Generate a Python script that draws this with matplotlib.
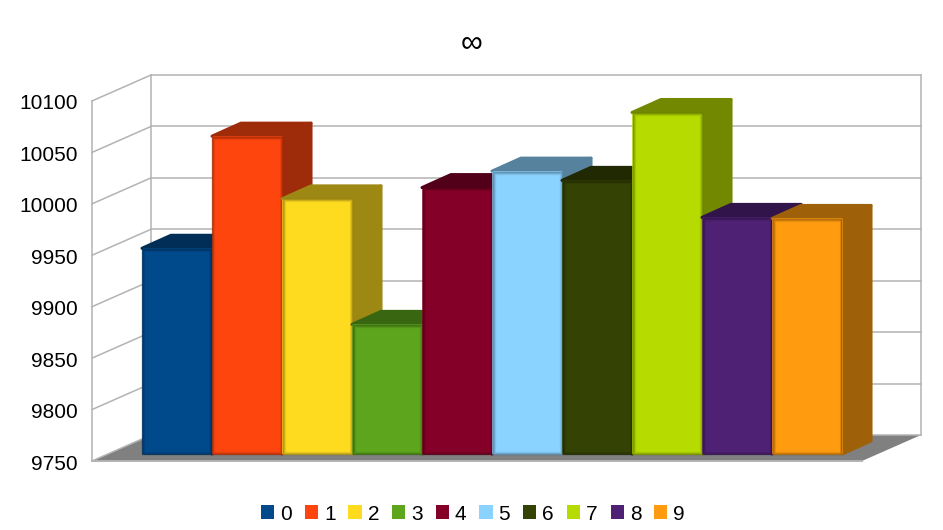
"""Pseudo-3D bar chart with ten categories, drawn with plain matplotlib polygons."""
import matplotlib
matplotlib.use('Agg')
import matplotlib.pyplot as plt
from matplotlib.colors import to_rgb
from matplotlib.patches import Patch, Polygon

# ======================== Data ========================
title = '\u221e'
categories = ['0', '1', '2', '3', '4', '5', '6', '7', '8', '9']
values = [9950, 10059, 9998, 9876, 10009, 10025, 10016, 10082, 9980, 9979]
y_ticks = [9750, 9800, 9850, 9900, 9950, 10000, 10050, 10100]
colors = ['#004a8c', '#ff450e', '#ffdb20', '#5ca51c', '#850028',
          '#8ad2ff', '#344204', '#b6db00', '#4f2175', '#ff9b0e']

# ======================== Scales ========================
W, H = 943, 530
BAR_PX = 70.0                       # one category in pixels
VAL_PX = 1.0286                     # one value unit in pixels
PX_X = 1 / BAR_PX
PX_Y = 1 / VAL_PX

BASE = y_ticks[0]
TOP = y_ticks[-1]
# the bars stand a bit behind and inside the front edge of the floor
FRONT_DX, FRONT_DY = -50 * PX_X, -7 * PX_Y
# depth of the whole box and of one bar
BOX_DX, BOX_DY = 59 * PX_X, 26 * PX_Y
BAR_DX, BAR_DY = 29 * PX_X, 13 * PX_Y
# width of the box front, left edge to right edge
BOX_W = 770 * PX_X

GRID = '#b3b3b3'
FLOOR = '#808080'


def darker(col, f):
    return tuple(c * f for c in to_rgb(col))


def grid_line(ax, xs, ys, lw=1.1):
    ax.plot(xs, ys, color=GRID, lw=lw, solid_capstyle='projecting', zorder=1)


def draw_bar(ax, i, val, col, z):
    x0, x1 = i, i + 1
    dark = darker(col, 0.62)
    # side and top faces first, the front covers their inner edge
    ax.add_patch(Polygon([(x1, BASE), (x1 + BAR_DX, BASE + BAR_DY),
                          (x1 + BAR_DX, val + BAR_DY), (x1, val)],
                         fc=dark, ec=dark, lw=2.2, joinstyle='round', zorder=z))
    ax.add_patch(Polygon([(x0, val), (x0 + BAR_DX, val + BAR_DY),
                          (x1 + BAR_DX, val + BAR_DY), (x1, val)],
                         fc=dark, ec=dark, lw=2.2, joinstyle='round', zorder=z))
    ax.add_patch(Polygon([(x0 + PX_X, BASE + PX_Y), (x1 - PX_X, BASE + PX_Y),
                          (x1 - PX_X, val - PX_Y), (x0 + PX_X, val - PX_Y)],
                         fc=col, ec=col, lw=1.8, joinstyle='round', zorder=z))
    # soft dark rim round the front face
    edge = darker(col, 0.5)
    for inset, alpha in [(0.5, 0.55), (1.5, 0.3), (2.5, 0.12)]:
        ax.add_patch(Polygon([(x0 + inset * PX_X, BASE + inset * PX_Y),
                              (x1 - inset * PX_X, BASE + inset * PX_Y),
                              (x1 - inset * PX_X, val - inset * PX_Y),
                              (x0 + inset * PX_X, val - inset * PX_Y)],
                             fc='none', ec=edge, lw=1.0, alpha=alpha,
                             joinstyle='round', zorder=z))


# ======================== Figure ========================
plt.rcParams['font.family'] = ['Liberation Sans', 'DejaVu Sans']
fig = plt.figure(figsize=(W / 100, H / 100), dpi=100)
ax = fig.add_axes([0, 0, 1, 1])
ax.set_xlim(-142 * PX_X, (W - 142) * PX_X)
ax.set_ylim(BASE - (H - 454) * PX_Y, BASE + 454 * PX_Y)
ax.axis('off')

left = FRONT_DX
right = left + BOX_W
floor = BASE + FRONT_DY
roof = TOP + FRONT_DY

# Floor
ax.add_patch(Polygon([(left, floor), (left + BOX_DX, floor + BOX_DY),
                      (right + BOX_DX, floor + BOX_DY), (right, floor)],
                     fc=FLOOR, ec='none', zorder=0.5))

# Walls and gridlines
for t in y_ticks:
    y = t + FRONT_DY
    grid_line(ax, [left + BOX_DX, right + BOX_DX], [y + BOX_DY, y + BOX_DY])
    grid_line(ax, [left, left + BOX_DX], [y, y + BOX_DY])
grid_line(ax, [left, right], [floor, floor], lw=1.4)
grid_line(ax, [left, left], [floor, roof])
grid_line(ax, [left + BOX_DX] * 2, [floor + BOX_DY, roof + BOX_DY])
grid_line(ax, [right + BOX_DX] * 2, [floor + BOX_DY, roof + BOX_DY])

# Bars, left to right so each one hides the side of the one before
for i, (val, col) in enumerate(zip(values, colors)):
    draw_bar(ax, i, val, col, 2 + i)

# Tick labels
for t in y_ticks:
    ax.text(left - 14 * PX_X, t + FRONT_DY - 3 * PX_Y, str(t), ha='right',
            va='center', fontsize=15, color='black')

ax.text((472 - 142) * PX_X, BASE + (454 - 43) * PX_Y, title, ha='center',
        va='center', fontsize=22, color='black')

handles = [Patch(fc=c, ec='none', label=n) for c, n in zip(colors, categories)]
fig.legend(handles=handles, loc='center', bbox_to_anchor=(473 / W, 1 - 514 / H),
           ncol=10, frameon=False, fontsize=15, handlelength=0.63,
           handleheight=0.63, handletextpad=0.29, columnspacing=0.62,
           borderpad=0, borderaxespad=0)

fig.savefig('out.png', dpi=100)
